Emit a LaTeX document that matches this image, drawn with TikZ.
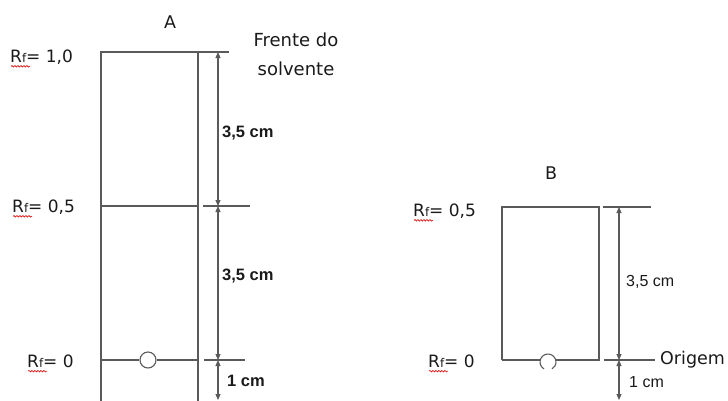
\documentclass[tikz,border=0pt]{standalone}
\usepackage{fontspec}
\setmainfont{DejaVu Sans}
\newfontfamily\arialf{Liberation Sans}
\usetikzlibrary{arrows.meta,decorations.pathmorphing,calc}
\definecolor{ln}{HTML}{5A5A5A}
\definecolor{txt}{HTML}{1A1A1A}
\newcommand{\rfl}{R{\fontsize{12}{12}\selectfont f}}
\begin{document}
\begin{tikzpicture}[x=1pt,y=-1pt,
  edge/.style={draw=ln,line width=1.1pt},
  dim/.style={draw=ln,line width=1.1pt,{Triangle[length=6pt,width=5pt]}-{Triangle[length=6pt,width=5pt]}},
  lbl/.style={inner sep=0pt,anchor=west,text=txt,font=\fontsize{17}{18}\selectfont},
  cml/.style={inner sep=0pt,anchor=west,text=txt,font=\arialf\bfseries\fontsize{16.5}{18}\selectfont},
  ttl/.style={inner sep=0pt,text=txt,font=\fontsize{17.5}{20}\selectfont},
  wavy/.style={draw=red!85!black,line width=0.6pt,decorate,decoration={snake,segment length=3pt,amplitude=0.8pt}}]
\useasboundingbox (0,0) rectangle (728,400);
% ---------- strip A ----------
\coordinate (a1) at (101,52); \coordinate (a2) at (198,52); \coordinate (a3) at (229,52);
\coordinate (a4) at (101,410); \coordinate (a5) at (198,410);
\draw[edge] (a4) -- (a1) -- (a2) -- (a5);
\draw[edge] (a2) -- (a3);
\coordinate (m1) at (101,206); \coordinate (m2) at (198,206);
\coordinate (m3) at (203,206); \coordinate (m4) at (250,206);
\draw[edge] (m1) -- (m2); \draw[edge] (m3) -- (m4);
\coordinate (o1) at (101,360); \coordinate (oc) at (148,360);
\coordinate (o2) at (198,360); \coordinate (o3) at (204,360); \coordinate (o4) at (245,360);
\node[circle,draw=ln,line width=1.1pt,fill=white,minimum size=16pt,inner sep=0pt] (spotA) at (oc) {};
\draw[edge] (o1) -- (spotA.west); \draw[edge] (spotA.east) -- (o2);
\draw[edge] (o3) -- (o4);
\coordinate (d1) at (218,52); \coordinate (d2) at (218,206); \coordinate (d3) at (218,360); \coordinate (d4) at (218,400);
\draw[dim] (d1) -- (d2);
\draw[dim] (d2) -- (d3);
\draw[dim] (d3) -- (d4);
\node[cml] (cA1) at (222,133) {3,5 cm};
\node[cml] (cA2) at (222,276) {3,5 cm};
\node[cml] (cA3) at (227,381) {1 cm};
\node[ttl] (tA) at (170,22) {A};
\node[ttl,font=\fontsize{18}{20}\selectfont] (fr1) at (296,40) {Frente do};
\node[ttl,font=\fontsize{18}{20}\selectfont] (fr2) at (296,69) {solvente};
\node[lbl] (rA1) at (10,57) {\rfl= 1,0};
\node[lbl] (rA2) at (12,207) {\rfl= 0,5};
\node[lbl] (rA3) at (27,361) {\rfl= 0};
\foreach \n in {rA1,rA2,rA3} \draw[wavy] ($(\n.base west)+(1,4)$) -- ++(19,0);
% ---------- strip B ----------
\coordinate (b1) at (502,207); \coordinate (b2) at (599,207);
\coordinate (b3) at (599,360); \coordinate (b4) at (502,360);
\coordinate (bc) at (548,362);
\draw[edge] (b4) -- (b1) -- (b2) -- (b3) -- ($(bc)+(8,-2)$);
\draw[edge] (b4) -- ($(bc)+(-8,-2)$);
\draw[edge] ($(bc)+(120:8)$) arc[start angle=120,end angle=420,radius=8];
\coordinate (b5) at (603,207); \coordinate (b6) at (651,207);
\coordinate (b7) at (604,360); \coordinate (b8) at (655,360);
\draw[edge] (b5) -- (b6); \draw[edge] (b7) -- (b8);
\coordinate (e1) at (619,207); \coordinate (e2) at (619,360); \coordinate (e3) at (619,400);
\draw[dim] (e1) -- (e2);
\draw[dim] (e2) -- (e3);
\node[cml,font=\arialf\fontsize{16}{18}\selectfont] (cB1) at (626,282) {3,5 cm};
\node[cml,font=\arialf\fontsize{16}{18}\selectfont] (cB2) at (629,382) {1 cm};
\node[ttl] (tB) at (551,173) {B};
\node[lbl,font=\fontsize{17.5}{20}\selectfont] (og) at (660,360) {Origem};
\node[lbl] (rB1) at (413,211) {\rfl= 0,5};
\node[lbl] (rB2) at (428,361) {\rfl= 0};
\foreach \n in {rB1,rB2} \draw[wavy] ($(\n.base west)+(1,4)$) -- ++(19,0);
\end{tikzpicture}
\end{document}
